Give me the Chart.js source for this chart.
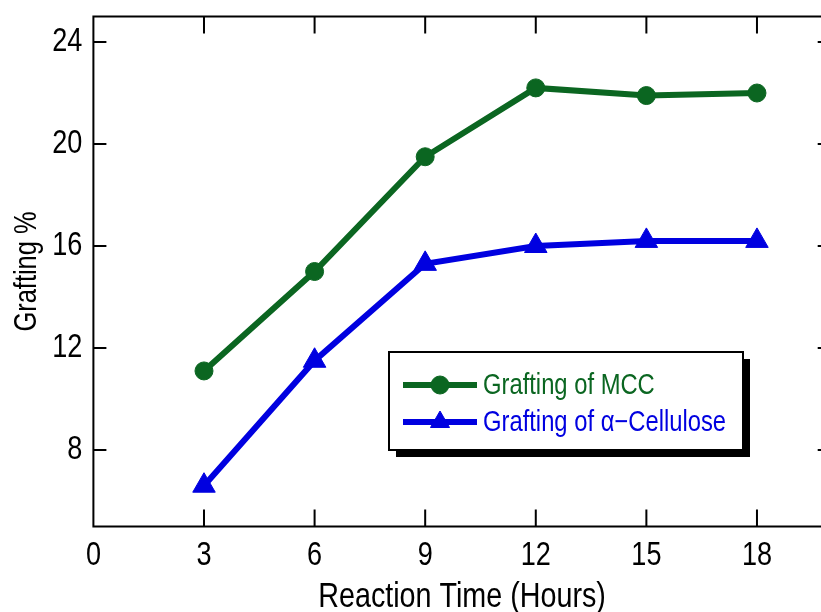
<!DOCTYPE html>
<html>
<head>
<meta charset="utf-8">
<script src="https://cdn.jsdelivr.net/npm/chart.js@4.4.1/dist/chart.umd.min.js"></script>
<style>
html, body { margin: 0; padding: 0; background: #fff; overflow: hidden; }
#wrap { width: 821px; height: 612px; overflow: hidden; }
</style>
</head>
<body>
<div id="wrap"><canvas id="chart" width="835" height="612"></canvas></div>
<script>
// reaction time (h) vs grafting %
const hours = [3, 6, 9, 12, 15, 18];
const mccGrafting = [11.1, 15.0, 19.5, 22.2, 21.9, 22.0];
const celluloseGrafting = [6.6, 11.5, 15.3, 16.0, 16.2, 16.2];
const xTicks = [0, 3, 6, 9, 12, 15, 18];
const yTicks = [8, 12, 16, 20, 24];
const seriesLabels = ['Grafting of MCC', 'Grafting of \u03b1\u2212Cellulose'];
const xTitle = 'Reaction Time (Hours)';
const yTitle = 'Grafting %';

const fam = "'Liberation Sans', Arial, sans-serif";
const green = '#0b6621';
const blue = '#0000e0';

// the original uses a narrow helvetica, squeeze the text sideways
function narrowText(ctx, text, x, y, size, align, rot) {
	ctx.save();
	ctx.translate(x, y);
	if (rot) ctx.rotate(rot);
	ctx.scale(0.82, 1);
	ctx.font = size + 'px ' + fam;
	ctx.textAlign = align;
	ctx.textBaseline = 'middle';
	ctx.fillText(text, 0, 0);
	ctx.restore();
}

// box round the plot, inward ticks, tick labels and axis titles
const framePlugin = {
	id: 'frame',
	beforeDatasetsDraw(chart) {
		const {ctx, chartArea: a, scales: {x, y}} = chart;
		ctx.save();
		ctx.strokeStyle = '#000';
		ctx.lineWidth = 2;
		ctx.strokeRect(a.left, a.top, a.right - a.left, a.bottom - a.top);
		ctx.beginPath();
		x.ticks.forEach(function (t) {
			if (t.value === 0) return;
			let px = x.getPixelForValue(t.value);
			ctx.moveTo(px, a.bottom); ctx.lineTo(px, a.bottom - 17);
			ctx.moveTo(px, a.top); ctx.lineTo(px, a.top + 17);
		});
		y.ticks.forEach(function (t) {
			let py = y.getPixelForValue(t.value);
			ctx.moveTo(a.left, py); ctx.lineTo(a.left + 13, py);
			ctx.moveTo(a.right, py); ctx.lineTo(a.right - 13, py);
		});
		ctx.stroke();
		ctx.fillStyle = '#000';
		x.ticks.forEach(function (t) {
			narrowText(ctx, String(t.value), x.getPixelForValue(t.value), a.bottom + 29, 33, 'center');
		});
		y.ticks.forEach(function (t) {
			narrowText(ctx, String(t.value), a.left - 11, y.getPixelForValue(t.value), 33, 'right');
		});
		narrowText(ctx, xTitle, (a.left + a.right) / 2, 597, 35, 'center');
		narrowText(ctx, yTitle, 27, (a.top + a.bottom) / 2, 31, 'center', -Math.PI / 2);
		ctx.restore();
	}
};

// legend box with drop shadow
const legendBox = {
	id: 'legendBox',
	afterDatasetsDraw(chart) {
		const ctx = chart.ctx;
		let bx = 389, by = 352, bw = 354, bh = 98, sh = 7;
		ctx.save();
		ctx.fillStyle = '#000';
		ctx.fillRect(bx + sh, by + sh, bw, bh);
		ctx.fillStyle = '#fff';
		ctx.fillRect(bx, by, bw, bh);
		ctx.lineWidth = 2;
		ctx.strokeStyle = '#000';
		ctx.strokeRect(bx, by, bw, bh);
		chart.data.datasets.forEach(function (ds, i) {
			let cy = by + 33 + i * 37;
			ctx.strokeStyle = ds.borderColor;
			ctx.lineWidth = ds.borderWidth;
			ctx.beginPath();
			ctx.moveTo(bx + 14, cy);
			ctx.lineTo(bx + 88, cy);
			ctx.stroke();
			ctx.fillStyle = ds.borderColor;
			ctx.lineWidth = 1;
			Chart.helpers.drawPoint(ctx, {
				pointStyle: ds.pointStyle,
				radius: i === 0 ? 9 : 11,
				rotation: 0,
				borderWidth: 1
			}, bx + 51, cy);
			ctx.fillStyle = ds.borderColor;
			narrowText(ctx, ds.label, bx + 94, cy + 1, 29, 'left');
		});
		ctx.restore();
	}
};

const ctx = document.getElementById('chart').getContext('2d');
const chart = new Chart(ctx, {
	type: 'line',
	data: {
		datasets: [{
			label: seriesLabels[0],
			data: hours.map((h, i) => ({x: h, y: mccGrafting[i]})),
			borderColor: green,
			backgroundColor: green,
			borderWidth: 6,
			pointStyle: 'circle',
			pointRadius: 9,
			pointBackgroundColor: green,
			pointBorderColor: green,
			pointBorderWidth: 1,
			tension: 0
		}, {
			label: seriesLabels[1],
			data: hours.map((h, i) => ({x: h, y: celluloseGrafting[i]})),
			borderColor: blue,
			backgroundColor: blue,
			borderWidth: 6,
			pointStyle: 'triangle',
			pointRadius: 13,
			pointBackgroundColor: blue,
			pointBorderColor: blue,
			pointBorderWidth: 1,
			tension: 0
		}]
	},
	options: {
		responsive: false,
		animation: false,
		layout: { autoPadding: false, padding: { top: 16.5, right: 4.3, left: 0, bottom: 0 } },
		plugins: {
			legend: { display: false },
			tooltip: { enabled: false }
		},
		scales: {
			x: {
				type: 'linear',
				min: 0,
				max: 20,
				grid: { display: false },
				border: { display: false },
				afterBuildTicks: function (s) { s.ticks = xTicks.map(v => ({value: v})); },
				afterFit: function (s) { s.height = 85.5; s.paddingLeft = 0; s.paddingRight = 0; },
				ticks: { display: false }
			},
			y: {
				min: 5,
				max: 25,
				grid: { display: false },
				border: { display: false },
				afterBuildTicks: function (s) { s.ticks = yTicks.map(v => ({value: v})); },
				afterFit: function (s) { s.width = 93.4; s.paddingTop = 0; s.paddingBottom = 0; },
				ticks: { display: false }
			}
		}
	},
	plugins: [framePlugin, legendBox]
});
</script>
</body>
</html>
